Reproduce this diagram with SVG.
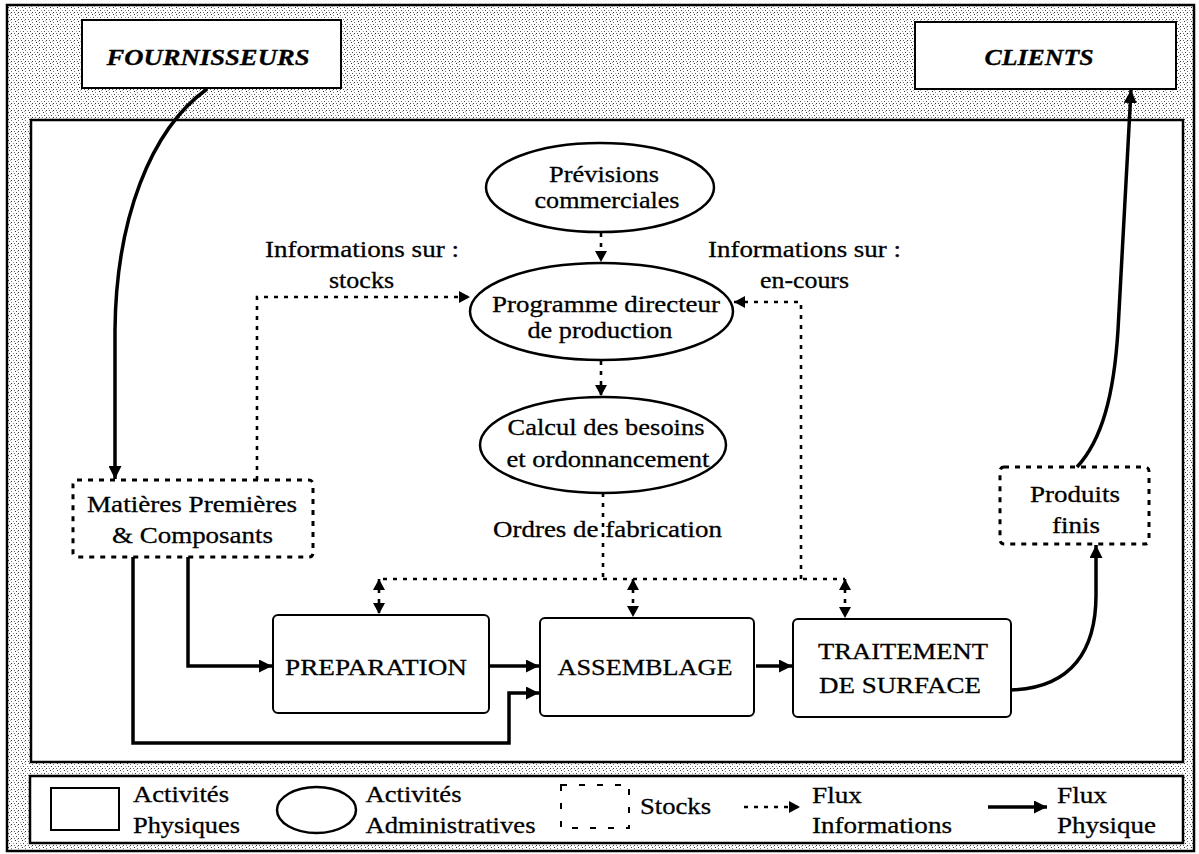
<svg xmlns="http://www.w3.org/2000/svg" width="1199" height="854" viewBox="0 0 1199 854">
<defs>
<pattern id="grain" width="7" height="7" patternUnits="userSpaceOnUse">
<rect width="7" height="7" fill="#ffffff"/>
<rect x="1" y="0" width="1" height="1" fill="#333"/>
<rect x="4" y="1" width="1" height="1" fill="#777"/>
<rect x="2" y="3" width="1" height="1" fill="#444"/>
<rect x="6" y="3" width="1" height="1" fill="#999"/>
<rect x="0" y="5" width="1" height="1" fill="#666"/>
<rect x="4" y="5" width="1" height="1" fill="#333"/>
<rect x="3" y="6" width="1" height="1" fill="#aaa"/>
</pattern>
<marker id="arr" viewBox="0 0 13 13" refX="13" refY="6.5" markerWidth="13" markerHeight="13" orient="auto-start-reverse" markerUnits="userSpaceOnUse">
<path d="M0,0 L13,6.5 L0,13 z" fill="#000"/>
</marker>
<marker id="darr" viewBox="0 0 11 12" refX="11" refY="6" markerWidth="11" markerHeight="12" orient="auto-start-reverse" markerUnits="userSpaceOnUse">
<path d="M0,0 L11,6 L0,12 z" fill="#000"/>
</marker>
</defs>
<style>
text { font-family: "Liberation Serif", "Times New Roman", serif; font-size: 24px; fill: #000; stroke: #000; stroke-width: 0.3; }
.title { font-weight: bold; font-style: italic; }
.frame { fill: #fff; stroke: #000; stroke-width: 2.5; }
.box { fill: #fff; stroke: #000; stroke-width: 2; }
.ell { fill: #fff; stroke: #000; stroke-width: 2.5; }
.stock { fill: #fff; stroke: #000; stroke-width: 3; stroke-dasharray: 5 6; }
.solid { fill: none; stroke: #000; stroke-width: 3.5; }
.info { fill: none; stroke: #000; stroke-width: 2.6; stroke-dasharray: 4 6; }
.c { text-anchor: middle; }
</style>

<rect id="background" x="7" y="5" width="1187" height="846" fill="url(#grain)" stroke="#000" stroke-width="2.5"/>
<rect id="main-frame" class="frame" x="31" y="120" width="1152" height="642"/>

<g id="fournisseurs">
<rect class="box" x="82" y="20" width="259" height="68"/>
<text class="title c" x="208" y="65" textLength="203" lengthAdjust="spacingAndGlyphs">FOURNISSEURS</text>
</g>
<g id="clients">
<rect class="box" x="915" y="22" width="261" height="67"/>
<text class="title c" x="1039" y="65" textLength="109" lengthAdjust="spacingAndGlyphs">CLIENTS</text>
</g>

<g id="previsions">
<ellipse class="ell" cx="600" cy="187.5" rx="114" ry="44.5"/>
<text class="c" x="604" y="182" textLength="110" lengthAdjust="spacingAndGlyphs">Prévisions</text>
<text class="c" x="607" y="208" textLength="145" lengthAdjust="spacingAndGlyphs">commerciales</text>
</g>
<g id="programme">
<ellipse class="ell" cx="601.5" cy="311.5" rx="131.5" ry="48.5"/>
<text class="c" x="606" y="312" textLength="228" lengthAdjust="spacingAndGlyphs">Programme directeur</text>
<text class="c" x="600" y="338" textLength="145" lengthAdjust="spacingAndGlyphs">de production</text>
</g>
<g id="calcul">
<ellipse class="ell" cx="603" cy="445" rx="123" ry="48"/>
<text class="c" x="606" y="435" textLength="197" lengthAdjust="spacingAndGlyphs">Calcul des besoins</text>
<text class="c" x="608" y="467" textLength="203" lengthAdjust="spacingAndGlyphs">et ordonnancement</text>
</g>

<g id="matieres">
<rect class="stock" x="73" y="480" width="240" height="77" rx="4"/>
<text class="c" x="192" y="512" textLength="210" lengthAdjust="spacingAndGlyphs">Matières Premières</text>
<text class="c" x="192.5" y="543" textLength="161" lengthAdjust="spacingAndGlyphs">&amp; Composants</text>
</g>
<g id="produits">
<rect class="stock" x="1000" y="467" width="149" height="77" rx="4"/>
<text class="c" x="1075" y="502" textLength="90" lengthAdjust="spacingAndGlyphs">Produits</text>
<text class="c" x="1076" y="533" textLength="48" lengthAdjust="spacingAndGlyphs">finis</text>
</g>

<g id="preparation">
<rect class="box" x="273" y="615" width="216" height="98" rx="5"/>
<text class="c" x="376" y="675" textLength="182" lengthAdjust="spacingAndGlyphs">PREPARATION</text>
</g>
<g id="assemblage">
<rect class="box" x="540" y="618" width="214" height="98" rx="5"/>
<text class="c" x="645" y="675" textLength="175" lengthAdjust="spacingAndGlyphs">ASSEMBLAGE</text>
</g>
<g id="traitement">
<rect class="box" x="793" y="619" width="218" height="98" rx="5"/>
<text class="c" x="903" y="659" textLength="170" lengthAdjust="spacingAndGlyphs">TRAITEMENT</text>
<text class="c" x="900" y="693" textLength="162" lengthAdjust="spacingAndGlyphs">DE SURFACE</text>
</g>

<g id="labels">
<text class="c" x="362" y="257" textLength="194" lengthAdjust="spacingAndGlyphs">Informations sur :</text>
<text class="c" x="361.5" y="288" textLength="65" lengthAdjust="spacingAndGlyphs">stocks</text>
<text class="c" x="804.5" y="257" textLength="193" lengthAdjust="spacingAndGlyphs">Informations sur :</text>
<text class="c" x="804.5" y="288" textLength="89" lengthAdjust="spacingAndGlyphs">en-cours</text>
<text class="c" x="607.5" y="537" textLength="229" lengthAdjust="spacingAndGlyphs">Ordres de fabrication</text>
</g>

<g id="connectors">
<path class="solid" d="M207,89 C150,130 116,220 115,330 L115,479" marker-end="url(#arr)"/>
<path class="solid" d="M1011,690 C1072,688 1096,650 1096,595 L1096,545" marker-end="url(#arr)"/>
<path class="solid" d="M1077,467 C1102,440 1114,395 1118,330 L1131,90" marker-end="url(#arr)"/>
<path class="solid" d="M188,557 L188,666 L272,666" marker-end="url(#arr)"/>
<path class="solid" d="M489,666 L539,666" marker-end="url(#arr)"/>
<path class="solid" d="M133,557 L133,743 L509,743 L509,693 L539,693" marker-end="url(#arr)"/>
<path class="solid" d="M756,666 L792,666" marker-end="url(#arr)"/>

<path class="info" d="M601,233 L601,262" marker-end="url(#darr)"/>
<path class="info" d="M601,361 L601,396" marker-end="url(#darr)"/>
<path class="info" d="M257,480 L257,297 L470,297" marker-end="url(#darr)"/>
<path class="info" d="M801,579 L801,302 L734,302" marker-end="url(#darr)"/>
<path class="info" d="M603,493 L603,579"/>
<path class="info" d="M383,579 L845,579"/>
<path class="info" d="M379,579 L379,614" marker-start="url(#darr)" marker-end="url(#darr)"/>
<path class="info" d="M633,579 L633,617" marker-start="url(#darr)" marker-end="url(#darr)"/>
<path class="info" d="M845,579 L845,618" marker-start="url(#darr)" marker-end="url(#darr)"/>
</g>

<g id="legend">
<rect class="frame" x="30" y="776" width="1153" height="67"/>
<rect class="box" x="51" y="788" width="68" height="42"/>
<text x="133" y="802" textLength="96" lengthAdjust="spacingAndGlyphs">Activités</text>
<text x="133" y="833" textLength="107" lengthAdjust="spacingAndGlyphs">Physiques</text>
<ellipse class="ell" cx="316.5" cy="810" rx="39.5" ry="23"/>
<text x="365.5" y="802" textLength="96" lengthAdjust="spacingAndGlyphs">Activités</text>
<text x="365.5" y="833" textLength="170" lengthAdjust="spacingAndGlyphs">Administratives</text>
<rect x="561" y="785" width="68" height="43" fill="none" stroke="#000" stroke-width="2" stroke-dasharray="6 12"/>
<text x="640" y="814" textLength="71" lengthAdjust="spacingAndGlyphs">Stocks</text>
<path class="info" d="M744,807 L800,807" marker-end="url(#darr)"/>
<text x="812" y="803" textLength="50" lengthAdjust="spacingAndGlyphs">Flux</text>
<text x="812" y="833" textLength="140" lengthAdjust="spacingAndGlyphs">Informations</text>
<path class="solid" d="M988,807 L1047,807" marker-end="url(#arr)"/>
<text x="1057" y="803" textLength="50" lengthAdjust="spacingAndGlyphs">Flux</text>
<text x="1057" y="833" textLength="99" lengthAdjust="spacingAndGlyphs">Physique</text>
</g>
</svg>
